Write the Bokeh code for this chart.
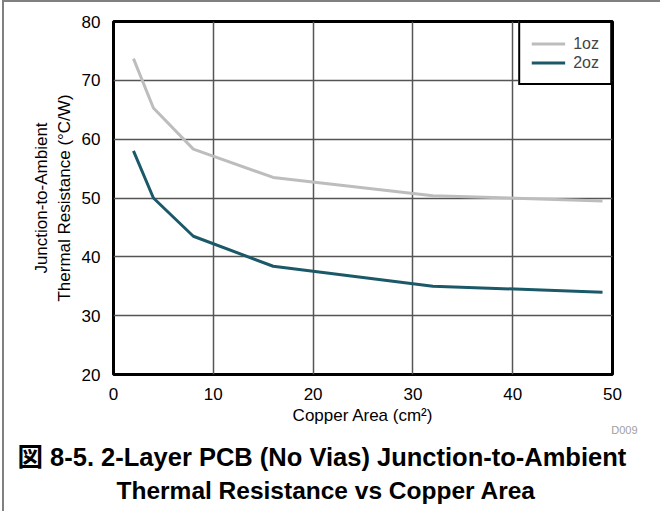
from bokeh.plotting import figure
from bokeh.models import Range1d, Legend, LegendItem, Title, FixedTicker
from bokeh.embed import file_html
from bokeh.resources import INLINE

# ---- data ----
area_1oz = [2, 4, 8, 16, 32, 49]
rth_1oz = [73.7, 65.3, 58.3, 53.5, 50.4, 49.5]
area_2oz = [2, 4, 8, 16, 32, 49]
rth_2oz = [58.0, 50.0, 43.5, 38.4, 35.0, 34.0]
series_names = ["1oz", "2oz"]
x_ticks = [0, 10, 20, 30, 40, 50]
y_ticks = [20, 30, 40, 50, 60, 70, 80]

FONT = "'Liberation Sans', Arial, Helvetica, sans-serif"
CJK_BOLD = "'Liberation Sans', 'Noto Sans CJK JP', sans-serif"
C1 = "#bdbdbd"
C2 = "#1b5968"

p = figure(width=658, height=511,
           x_range=Range1d(0, 50), y_range=Range1d(20, 80),
           output_backend="svg", toolbar_location=None,
           min_border_left=109, min_border_right=50,
           min_border_top=19, min_border_bottom=139)
p.styles = {"position": "absolute", "left": "2px", "top": "0px",
            "border-top": "2px solid #808080",
            "border-left": "2px solid #808080"}
p.background_fill_color = "white"
p.border_fill_color = "white"
p.outline_line_color = "black"
p.outline_line_width = 3

r1 = p.line(area_1oz, rth_1oz, line_color=C1, line_width=3)
r2 = p.line(area_2oz, rth_2oz, line_color=C2, line_width=3)

p.xaxis.ticker = FixedTicker(ticks=x_ticks)
p.yaxis.ticker = FixedTicker(ticks=y_ticks)
for ax in (p.xaxis[0], p.yaxis[0]):
    ax.axis_line_color = None
    ax.major_tick_line_color = None
    ax.minor_tick_line_color = None
    ax.major_label_text_font = FONT
    ax.major_label_text_font_size = "17px"
    ax.major_label_text_color = "black"
    ax.major_label_standoff = 7
    ax.axis_label_text_font = FONT
    ax.axis_label_text_font_size = "17px"
    ax.axis_label_text_font_style = "normal"
    ax.axis_label_text_color = "black"

p.xaxis.axis_label = "Copper Area (cm\u00b2)"
p.xaxis.axis_label_standoff = 3
p.yaxis.axis_label = "Junction-to-Ambient\nThermal Resistance (\u00b0C/W)"
p.yaxis.axis_label_standoff = 5

p.grid.grid_line_color = "#555555"
p.grid.grid_line_width = 1.5
p.grid.grid_line_alpha = 1.0

legend = Legend(items=[LegendItem(label=series_names[0], renderers=[r1]),
                       LegendItem(label=series_names[1], renderers=[r2])],
                location="top_right", margin=0, padding=11, spacing=0,
                border_line_color="black", border_line_width=2,
                border_line_alpha=1.0,
                background_fill_color="white", background_fill_alpha=1,
                label_text_font=FONT, label_text_font_size="16px",
                glyph_width=34, glyph_height=19, label_height=19,
                label_standoff=8)
p.add_layout(legend)

# figure tag, right under the x axis
p.add_layout(Title(text="D009", align="right", offset=-25,
                   text_font=FONT, text_font_size="11px",
                   text_font_style="normal", text_color="#a0a0a0",
                   standoff=-16), "below")
# caption, two lines
p.add_layout(Title(text="\u56f3 8-5. 2-Layer PCB (No Vias) Junction-to-Ambient",
                   align="left", offset=-96,
                   text_font=CJK_BOLD, text_font_size="25.5px",
                   text_font_style="bold", text_color="black",
                   standoff=28.2), "below")
p.add_layout(Title(text="Thermal Resistance vs Copper Area",
                   align="left", offset=3,
                   text_font=CJK_BOLD, text_font_size="24.5px",
                   text_font_style="bold", text_color="black",
                   standoff=-22), "below")

open("out.html", "w").write(file_html(p, INLINE))
